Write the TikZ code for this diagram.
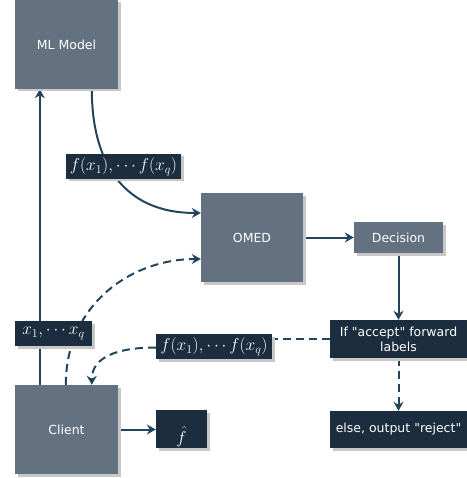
\documentclass[tikz,border=0pt]{standalone}
\usepackage[no-math]{fontspec}
\setmainfont{DejaVu Sans}[Ligatures=TeXOff]
\usetikzlibrary{arrows.meta,shadows,calc}
\definecolor{boxgray}{HTML}{637180}
\definecolor{boxdark}{HTML}{1B2D3E}
\definecolor{edgeblue}{HTML}{23445D}
\definecolor{shadowgray}{HTML}{C8C8C8}
\pgfdeclarelayer{edges}
\pgfsetlayers{edges,main}
\begin{document}
\begin{tikzpicture}[x=1pt,y=-1pt,
  boxbase/.style={rectangle, draw=none, text=white, inner sep=0pt,
    font=\fontsize{12.5}{15}\selectfont,
    drop shadow={shadow xshift=2.5pt, shadow yshift=-2.5pt, fill=shadowgray, opacity=1}},
  graybox/.style={boxbase, fill=boxgray},
  darkbox/.style={boxbase, fill=boxdark},
  mathlabel/.style={darkbox, font=\fontsize{18}{20}\selectfont},
  conn/.style={draw=edgeblue, line width=2pt, -{Stealth[length=9pt,width=10pt,inset=3pt]}},
  plainconn/.style={draw=edgeblue, line width=2pt},
  dashedconn/.style={dash pattern=on 8pt off 5pt}]
\useasboundingbox (0,0) rectangle (466,478);

% main boxes
\node[graybox, minimum width=103pt, minimum height=89pt] (ml) at (66.5,44.5) {ML Model};
\node[graybox, minimum width=102pt, minimum height=89pt] (omed) at (252,237.5) {OMED};
\node[graybox, minimum width=89pt, minimum height=31pt] (decision) at (398.5,237.5) {Decision};
\node[darkbox, minimum width=137pt, minimum height=38pt, align=center] (ifbox) at (398.5,339) {If "accept" forward\\labels};
\node[darkbox, minimum width=137pt, minimum height=37pt] (elsebox) at (398.5,429.5) {else, output "reject"};
\node[graybox, minimum width=103pt, minimum height=89pt] (client) at (66.5,429.5) {Client};
\node[mathlabel, minimum width=51pt, minimum height=38pt, text height=29pt, text depth=0pt] (fhat) at (181.5,429) {$\hat f$};

% labels on connectors
\node[mathlabel, minimum width=115pt, minimum height=25pt] (lab1) at (123.5,166.5) {$f(x_1),\cdots f(x_q)$};
\node[mathlabel, minimum width=116pt, minimum height=25pt] (lab2) at (214,346.5) {$f(x_1),\cdots f(x_q)$};
\node[mathlabel, minimum width=77pt, minimum height=25pt] (lab3) at (53.5,333.5) {$x_1,\cdots x_q$};

\begin{pgfonlayer}{edges}
\draw[conn] ([xshift=25pt]client.north west) -- ([xshift=25pt]ml.south west);
\draw[conn] ([xshift=77pt]ml.south west) .. controls +(0,70) and +(-80,0) .. ($(omed.west)+(0,-24.5)$);
\draw[conn, dashedconn] ([xshift=51pt]client.north west) .. controls +(0,-80) and +(-70,0) .. ($(omed.west)+(0,21.5)$);
\draw[conn] (omed.east) -- (decision.west);
\draw[conn] (decision.south) -- (ifbox.north);
\draw[conn, dashedconn] (ifbox.south) -- (elsebox.north);
\draw[plainconn, dashedconn] (ifbox.west) -- (ifbox.west -| lab2.east);
\draw[conn, dashedconn] ($(lab2.west)+(0,1)$) .. controls +(-38,0) and +(0,-28) .. ([xshift=77pt]client.north west);
\draw[conn] (client.east) -- (client.east -| fhat.west);
\end{pgfonlayer}
\end{tikzpicture}
\end{document}
